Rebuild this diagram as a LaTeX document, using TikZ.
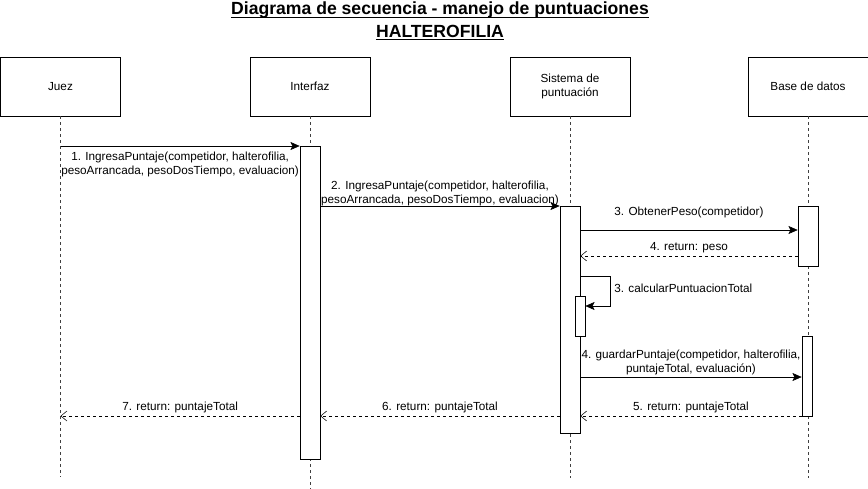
\documentclass[tikz,border=0pt]{standalone}
\usepackage{fontspec}
\setmainfont{Liberation Sans}
\usetikzlibrary{arrows.meta, positioning}

\tikzset{
  titlefont/.style={font=\bfseries\fontsize{13.2}{14.25}\selectfont, inner sep=0pt, anchor=base},
  uline/.style={line width=1pt},
  actor/.style={draw, minimum width=90pt, minimum height=44.5pt, inner sep=1pt,
    align=center, font=\fontsize{8.8}{10.5}\selectfont},
  act/.style={draw, fill=white, minimum width=15pt, inner sep=0pt, anchor=north},
  smallact/.style={act, minimum width=7.5pt},
  lifeline/.style={draw=black!75, dash pattern=on 2.25pt off 2.25pt},
  msg/.style={-{Stealth[length=7pt, width=6pt, inset=1.5pt]}},
  ret/.style={-{Straight Barb[length=4.5pt, width=7.5pt]}, dash pattern=on 2.25pt off 2.25pt},
  lbl/.style={font=\fontsize{8.8}{10.5}\selectfont, align=center, inner sep=0pt}
}

\begin{document}
\begin{tikzpicture}[x=0.75pt, y=-0.75pt]
  \useasboundingbox (0,0) rectangle (868,489);

  % Title
  \node[titlefont] (title) at (440,15) {Diagrama de secuencia - manejo de puntuaciones};
  \node[titlefont] (sport) at (440,37) {HALTEROFILIA};
  \draw[uline] ([yshift=-1.8pt]title.base west) -- ([yshift=-1.8pt]title.base east);
  \draw[uline] ([yshift=-1.8pt]sport.base west) -- ([yshift=-1.8pt]sport.base east);

  % Participants
  \node[actor] (juez) at (60.5,86.5) {Juez};
  \node[actor] (intf) at (310,86.5) {Interfaz};
  \node[actor] (sist) at (570,86.5) {Sistema de\\puntuación};
  \node[actor] (base) at (808,86.5) {Base de datos};

  % Lifeline ends
  \coordinate (juezend) at (60.5,477);
  \coordinate (intfend) at (310,489);
  \coordinate (sistend) at (570,478);
  \coordinate (baseend) at (808,478);

  % Lifelines
  \draw[lifeline] (juez.south) -- (juezend);
  \draw[lifeline] (intf.south) -- (intfend);
  \draw[lifeline] (sist.south) -- (sistend);
  \draw[lifeline] (base.south) -- (baseend);

  % Activations
  \node[act, minimum height=234.75pt] (actI) at (310,146) {};
  \node[act, minimum height=170.25pt] (actS) at (570,206) {};
  \node[act, minimum height=45pt] (actB1) at (808,206) {};
  \node[smallact, minimum height=30pt] (actSs) at (580,296) {};
  \node[smallact, minimum height=60pt] (actB2) at (807,336) {};

  % Message levels
  \coordinate (y3) at (0,230);
  \coordinate (y4) at (0,256);
  \coordinate (y5a) at (0,276);
  \coordinate (y5b) at (0,306);
  \coordinate (y6) at (0,377);
  \coordinate (y7) at (0,416);

  % Calls
  \draw[msg] (juez.south |- actI.north) -- (actI.north west)
    node[lbl, midway, below=4pt] {1. IngresaPuntaje(competidor, halterofilia,\\pesoArrancada, pesoDosTiempo, evaluacion)};
  \draw[msg] (actI.east |- actS.north) -- (actS.north west)
    node[lbl, midway, above=0pt] {2. IngresaPuntaje(competidor, halterofilia,\\pesoArrancada, pesoDosTiempo, evaluacion)};
  \draw[msg] (actS.east |- y3) -- (actB1.west |- y3)
    node[lbl, midway, above=9pt] {3. ObtenerPeso(competidor)};
  \draw[ret] (actB1.west |- y4) -- (actS.east |- y4)
    node[lbl, midway, above=2pt] {4. return: peso};
  \draw[msg] (actS.east |- y5a) -- ++(30,0) |- (actSs.east |- y5b);
  \node[lbl, anchor=west] (selflbl) at (614,288) {3. calcularPuntuacionTotal};
  \draw[msg] (actS.east |- y6) -- (actB2.west |- y6)
    node[lbl, midway, above=1.5pt] {4. guardarPuntaje(competidor, halterofilia,\\puntajeTotal, evaluación)};

  % Returns
  \draw[ret] (actB2.west |- y7) -- (actS.east |- y7)
    node[lbl, midway, above=2pt] {5. return: puntajeTotal};
  \draw[ret] (actS.west |- y7) -- (actI.east |- y7)
    node[lbl, midway, above=2pt] {6. return: puntajeTotal};
  \draw[ret] (actI.west |- y7) -- (juez.south |- y7)
    node[lbl, midway, above=2pt] {7. return: puntajeTotal};
\end{tikzpicture}
\end{document}
